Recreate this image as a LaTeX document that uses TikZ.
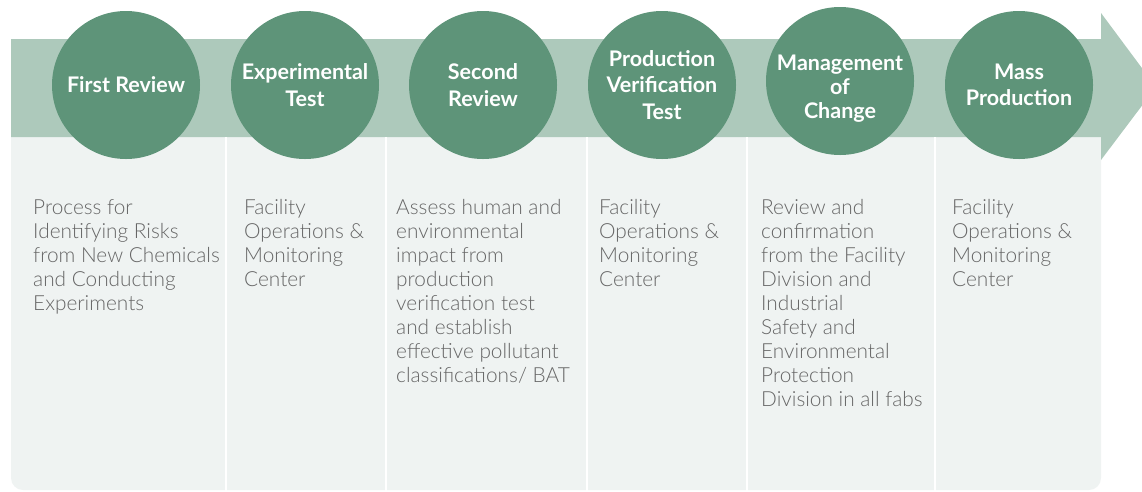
\documentclass[tikz,border=0pt]{standalone}
\usepackage{fontspec}
\setmainfont{Lato}
\newfontfamily\lightfont{Lato Light}
\usetikzlibrary{positioning}
\definecolor{bandgreen}{HTML}{ADC9BB}
\definecolor{stepgreen}{HTML}{5E9479}
\definecolor{panelgray}{HTML}{EFF3F2}
\definecolor{descgray}{HTML}{666666}
\begin{document}
\begin{tikzpicture}[x=1pt, y=-1pt,
  stage/.style={circle, fill=stepgreen, minimum size=148pt, inner sep=0pt,
                text=white, align=center, font=\fontsize{21.5}{26.5}\selectfont\bfseries},
  stagetext/.style={text=white, align=center, inner sep=0pt,
                    font=\fontsize{21.5}{24}\selectfont\bfseries},
  desc/.style={anchor=north west, align=left, text=descgray, inner sep=0pt,
               font=\lightfont\fontsize{20.8}{24}\selectfont},
  divider/.style={white, line width=2.5pt}]
  \useasboundingbox (0,0) rectangle (1142,491);
  \clip (0,0) rectangle (1142,491);
  % panel and band
  \fill[panelgray, rounded corners=12pt] (11,100) rectangle (1101,490);
  \fill[bandgreen] (11,39) -- (1101,39) -- (1101,13) -- (1156,87)
                   -- (1101,160) -- (1101,137) -- (11,137) -- cycle;
  \foreach \x in {226,386,587,747,935}
    \draw[divider] (\x,137) -- (\x,491);
  % stages
  \node[stage] (first)   at (126,85)  {First Review};
  \node[stage] (exper)   at (305,85)  {Experimental\\Test};
  \node[stage] (second)  at (483,85)  {Second\\Review};
  \node[stage] (verif)   at (662,85)  {Production\\Verification\\Test};
  \node[stage] (moc)     at (840,81)  {};
  \node[stagetext] (moctext) at (840,89) {Management\\of\\Change};
  \node[stage] (mass)    at (1019,85) {Mass\\Production};
  % descriptions
  \node[desc] (firstdesc)  at (33,199)  {Process for\\Identifying Risks\\from New Chemicals\\and Conducting\\Experiments};
  \node[desc] (experdesc)  at (244,199) {Facility\\Operations \&\\Monitoring\\Center};
  \node[desc] (seconddesc) at (396,199) {Assess human and\\environmental\\impact from\\production\\verification test\\and establish\\effective pollutant\\classifications/ BAT};
  \node[desc] (verifdesc)  at (599,199) {Facility\\Operations \&\\Monitoring\\Center};
  \node[desc] (mocdesc)    at (761,199) {Review and\\confirmation\\from the Facility\\Division and\\Industrial\\Safety and\\Environmental\\Protection\\Division in all fabs};
  \node[desc] (massdesc)   at (952,199) {Facility\\Operations \&\\Monitoring\\Center};
\end{tikzpicture}
\end{document}
